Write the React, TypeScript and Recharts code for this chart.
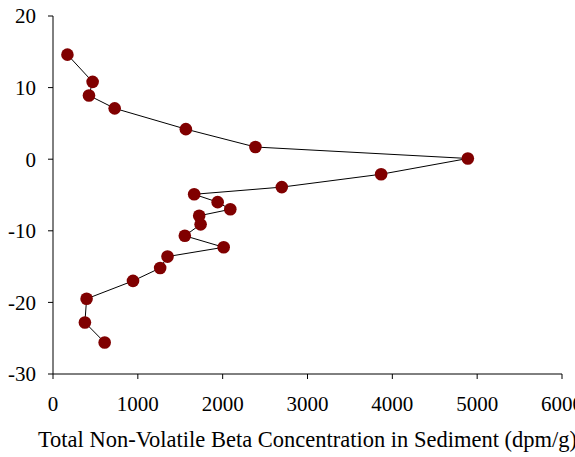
import * as React from "react";
import { Line, LineChart, XAxis, YAxis } from "recharts";

// Sediment core profile: depth vs. non-volatile beta activity, top to bottom
const depthCm = [
  14.6, 10.8, 8.9, 7.1, 4.2, 1.7, 0.1, -2.1, -3.9, -4.9, -6.0, -7.0, -7.9,
  -9.1, -10.7, -12.3, -13.6, -15.2, -17.0, -19.5, -22.8, -25.6,
];
const betaDpm = [
  170, 467, 424, 727, 1566, 2386, 4890, 3868, 2697, 1664, 1941, 2090, 1723,
  1740, 1554, 2012, 1350, 1263, 943, 396, 376, 609,
];
const xTicks = [0, 1000, 2000, 3000, 4000, 5000, 6000];
const yTicks = [-30, -20, -10, 0, 10, 20];
const xTitle = "Total Non-Volatile Beta Concentration in Sediment (dpm/g)";

const FONT = '"Liberation Serif", "Times New Roman", serif';
const MARKER = "#800000";

const data = betaDpm.map((x, i) => ({ x, depth: depthCm[i] }));

// plain serif tick text; anchor and baseline shift differ per axis
const makeTick =
  (anchor: "middle" | "end", dy: string) =>
  (props: any) => (
    <text
      x={props.x}
      y={props.y}
      dy={dy}
      textAnchor={anchor}
      fill="#000"
      fontSize={21}
      fontFamily={FONT}
    >
      {props.payload.value}
    </text>
  );

export default function App() {
  return (
    <div style={{ width: 575, height: 457, fontFamily: FONT, overflow: "hidden" }}>
      <style>{"body{margin:0}"}</style>
      <LineChart
        width={575}
        height={457}
        data={data}
        style={{ fontFamily: FONT }}
        margin={{ top: 16, right: 13, bottom: 23, left: 0 }}
      >
        <XAxis
          dataKey="x"
          type="number"
          domain={[0, 6000]}
          ticks={xTicks}
          interval={0}
          allowDataOverflow
          height={60}
          tick={makeTick("middle", "0.71em")}
          tickSize={5}
          tickMargin={17}
          axisLine={{ stroke: "#000" }}
          tickLine={{ stroke: "#000" }}
          label={{
            value: xTitle,
            position: "insideBottom",
            offset: -13,
            fill: "#000",
            fontSize: 22.5,
            fontFamily: FONT,
          }}
        />
        <XAxis
          xAxisId="top"
          orientation="top"
          dataKey="x"
          type="number"
          domain={[0, 6000]}
          height={0}
          tick={false}
          tickLine={false}
          axisLine={{ stroke: "#000" }}
        />
        <YAxis
          dataKey="depth"
          type="number"
          domain={[-30, 20]}
          ticks={yTicks}
          interval={0}
          width={53}
          tick={makeTick("end", "0.355em")}
          tickSize={5}
          tickMargin={12}
          axisLine={{ stroke: "#000" }}
          tickLine={{ stroke: "#000" }}
        />
        <YAxis
          yAxisId="right"
          orientation="right"
          type="number"
          domain={[-30, 20]}
          width={0}
          tick={false}
          tickLine={false}
          axisLine={{ stroke: "#000" }}
        />
        <Line
          type="linear"
          dataKey="depth"
          stroke="#000"
          strokeWidth={1}
          dot={{ r: 6.3, fill: MARKER, stroke: MARKER, strokeWidth: 0 }}
          activeDot={false}
          isAnimationActive={false}
        />
      </LineChart>
    </div>
  );
}
